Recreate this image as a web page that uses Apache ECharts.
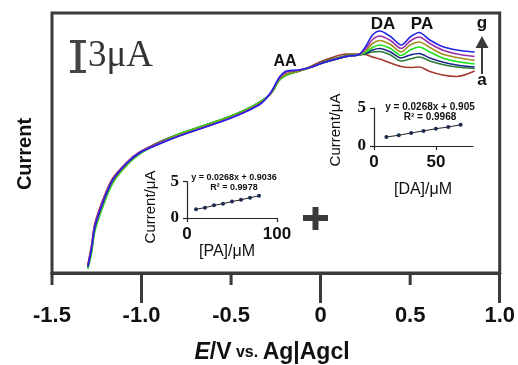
<!DOCTYPE html>
<html><head><meta charset="utf-8">
<script src="https://cdn.jsdelivr.net/npm/echarts@6/dist/echarts.min.js"></script>
<style>html,body{margin:0;padding:0;background:#fff}#c{width:518px;height:365px}</style>
</head><body><div id="c"></div>
<script>
// Potential (V vs. Ag|AgCl)
const potential = [-1.30,-1.28,-1.26,-1.21,-1.16,-1.08,-1.01,-0.90,-0.79,-0.66,-0.53,-0.41,-0.33,-0.28,-0.26,-0.23,-0.19,-0.12,-0.05,0.01,0.11,0.16,
                   0.21,0.25,0.29,0.33,0.39,0.45,0.50,0.55,0.61,0.68,0.76,0.86];
// Currents (µA, arbitrary offset) for curves a..g
const curveA = [0.8,2.7,5.0,7.6,9.5,11.1,12.1,13.1,13.9,14.7,15.5,16.4,17.2,17.9,18.4,19.3,19.8,20.2,20.7,21.2,21.8,21.9,
                21.9,21.85,21.6,21.4,21.0,20.65,20.55,20.6,20.15,19.8,19.65,20.2];
const curveB = [0.5,2.1,4.4,7.1,9.1,10.9,12.0,13.1,13.9,14.7,15.5,16.4,17.2,17.9,18.4,19.3,19.8,20.2,20.6,21.1,21.6,21.8,
                21.8,21.9,22.1,22.15,21.8,21.2,21.4,21.6,21.2,20.85,20.6,20.45];
const curveC = [0.6,2.3,4.6,7.3,9.3,11.0,12.0,13.0,13.8,14.6,15.4,16.3,17.1,17.9,18.5,19.4,19.9,20.2,20.6,21.0,21.5,21.7,
                21.8,21.95,22.3,22.45,22.1,21.5,21.8,21.95,21.5,21.1,20.8,20.6];
const curveD = [0.4,1.9,4.2,6.9,9.0,10.8,11.9,13.0,13.9,14.7,15.5,16.4,17.2,17.9,18.4,19.3,19.8,20.2,20.6,21.0,21.5,21.7,
                21.8,22.05,22.55,22.8,22.45,21.75,22.3,22.6,22.1,21.5,21.15,20.9];
const curveE = [0.6,2.3,4.5,7.2,9.2,10.9,12.0,13.0,13.8,14.6,15.4,16.3,17.1,17.9,18.5,19.4,19.9,20.2,20.6,21.0,21.5,21.7,
                21.8,22.2,22.95,23.25,22.85,22.1,22.8,23.1,22.55,21.9,21.55,21.25];
const curveF = [0.7,2.6,4.9,7.5,9.4,11.1,12.1,13.0,13.7,14.5,15.3,16.2,17.0,18.0,18.6,19.5,20.1,20.3,20.6,21.0,21.5,21.7,
                21.8,22.4,23.35,23.7,23.25,22.45,23.2,23.6,22.95,22.3,21.9,21.65];
const curveG = [0.6,2.3,4.6,7.3,9.3,11.0,12.0,12.9,13.7,14.5,15.3,16.2,17.0,18.0,18.6,19.6,20.2,20.3,20.6,21.0,21.5,21.7,
                21.8,22.6,23.8,24.2,23.65,22.8,23.6,24.05,23.3,22.65,22.3,22.1];
const curveNames = ['a','b','c','d','e','f','g'];
const curveColors = ['#a33a2e','#2c7a36','#1c2787','#1ee21e','#a08f1c','#9c2ea6','#2323e6'];
const xTickValues = [-1.5,-1.0,-0.5,0,0.5,1.0];
const xTickLabels = ['-1.5','-1.0','-0.5','0','0.5','1.0'];
const xLongTicks = [-1.0,0,1.0];
const xShortTicks = [-1.5,-0.5,0.5];
// Insets
const daConc = [10,20,30,40,50,60,70];
const daCurrent = [1.18,1.42,1.71,1.99,2.27,2.50,2.79];
const paConc = [10,20,30,40,50,60,70,80];
const paCurrent = [1.20,1.42,1.73,1.96,2.26,2.49,2.79,3.04];

const SANS = '"Liberation Sans", Arial, sans-serif';
const SERIF = '"Liberation Serif", "Times New Roman", serif';
const DARK = '#3a3a3a';

const curves = [curveA,curveB,curveC,curveD,curveE,curveF,curveG];
const series = curves.map((arr,i)=>({
  name: curveNames[i], type:'line', xAxisIndex:0, yAxisIndex:0,
  data: potential.map((e,j)=>[e,arr[j]]), smooth:0.3, symbol:'none',
  lineStyle:{color:curveColors[i], width:1.6}, z:2
}));
series.push({type:'line', xAxisIndex:2, yAxisIndex:1, data: daConc.map((c,i)=>[c,daCurrent[i]]),
  symbol:'circle', symbolSize:4, itemStyle:{color:'#1d2b4f'}, lineStyle:{color:'#222', width:1}, z:3});
series.push({type:'line', xAxisIndex:3, yAxisIndex:2, data: paConc.map((c,i)=>[c,paCurrent[i]]),
  symbol:'circle', symbolSize:4, itemStyle:{color:'#1d2b4f'}, lineStyle:{color:'#222', width:1}, z:3});

const insetAxisLine = {show:true, lineStyle:{color:'#222', width:1.2}};
const insetTick = {show:true, length:4, lineStyle:{color:'#222', width:1.2}};

function txt(x,y,text,font,extra){
  return Object.assign({type:'text', x:x, y:y, z:10, style:{text:text, font:font, fill:'#111', align:'center', verticalAlign:'middle'}}, extra||{});
}

const graphics = [
    txt(25,154,'Current','bold 20px '+SANS,{rotation:Math.PI/2}),
    {type:'text', x:272, y:353, z:10, style:{
      text:'{e|E}{b|/V}{s| vs. }{b|Ag|Agcl}', align:'center', verticalAlign:'middle', fill:'#111',
      rich:{e:{font:'italic bold 23px '+SANS, fill:'#111'}, b:{font:'bold 23px '+SANS, fill:'#111'}, s:{font:'bold 16px '+SANS, fill:'#111'}}}},
    // scale bar
    {type:'line', z:10, shape:{x1:78, y1:41, x2:78, y2:72}, style:{stroke:'#444', lineWidth:5}},
    {type:'line', z:10, shape:{x1:70, y1:41.5, x2:86, y2:41.5}, style:{stroke:'#444', lineWidth:3}},
    {type:'line', z:10, shape:{x1:70, y1:71.5, x2:86, y2:71.5}, style:{stroke:'#444', lineWidth:3}},
    {type:'text', x:88, y:56, z:10, style:{text:'3μA', font:'37px '+SERIF, fill:'#333', align:'left', verticalAlign:'middle'}},
    // peak labels
    txt(285,62,'AA','bold 16px '+SANS),
    txt(383,24,'DA','bold 17px '+SANS),
    txt(422,24,'PA','bold 17px '+SANS),
    txt(482,23,'g','bold 17px '+SANS),
    txt(482,80,'a','bold 17px '+SANS),
    {type:'line', z:10, shape:{x1:482, y1:74, x2:482, y2:46}, style:{stroke:DARK, lineWidth:2}},
    {type:'polygon', z:10, shape:{points:[[482,36],[475.5,48],[488.5,48]]}, style:{fill:DARK}},
    // plus sign
    {type:'rect', z:10, shape:{x:303, y:215, width:25, height:6}, style:{fill:DARK}},
    {type:'rect', z:10, shape:{x:312.5, y:207, width:6, height:23}, style:{fill:DARK}},
    // DA inset texts
    txt(430,107,'y = 0.0268x + 0.905','bold 10px '+SANS),
    txt(430,117,'R² = 0.9968','bold 10px '+SANS),
    txt(423,190,'[DA]/μM','16px '+SANS),
    txt(336,130,'Current/μA','15px '+SANS,{rotation:Math.PI/2}),
    // PA inset texts
    txt(234,178,'y = 0.0268x + 0.9036','bold 9px '+SANS),
    txt(234,188,'R² = 0.9978','bold 9px '+SANS),
    txt(227,252,'[PA]/μM','16px '+SANS),
    txt(151,207,'Current/μA','15px '+SANS,{rotation:Math.PI/2})
];

const option = {
  animation:false,
  backgroundColor:'#fff',
  grid:[
    {left:52, right:18, top:13, bottom:92, show:true, borderColor:DARK, borderWidth:3, backgroundColor:'transparent'},
    {left:374, right:45, top:108, bottom:219},
    {left:187, right:241, top:181.5, bottom:147}
  ],
  xAxis:[
    {type:'value', gridIndex:0, position:'bottom', min:-1.5, max:1.0, interval:0.5,
     axisLine:{show:true, lineStyle:{color:DARK, width:3}}, splitLine:{show:false},
     axisTick:{show:false},
     axisLabel:{margin:32, fontFamily:SANS, fontWeight:'bold', fontSize:22, color:'#111',
       formatter:v=>{const k=xTickValues.findIndex(t=>Math.abs(t-v)<1e-9);return k>=0?xTickLabels[k]:'';}}},
    {type:'value', gridIndex:0, position:'bottom', offset:0, min:-1.5, max:1.0, interval:0.5,
     axisLine:{show:true, lineStyle:{color:DARK, width:3}}, splitLine:{show:false}, axisLabel:{show:false},
     axisTick:{show:true, inside:false, customValues:xLongTicks, length:30, lineStyle:{color:DARK, width:3}}},
    {type:'value', gridIndex:1, min:0, max:80, interval:50, axisLine:insetAxisLine, splitLine:{show:false},
     axisTick:Object.assign({customValues:[0,50]},insetTick),
     axisLabel:{customValues:[0,50], margin:8, fontFamily:SANS, fontWeight:'bold', fontSize:17, color:'#111'}},
    {type:'value', gridIndex:2, min:0, max:100, interval:100, axisLine:insetAxisLine, splitLine:{show:false},
     axisTick:insetTick,
     axisLabel:{margin:8, fontFamily:SANS, fontWeight:'bold', fontSize:17, color:'#111'}}
  ],
  yAxis:[
    {type:'value', gridIndex:0, min:0, max:26, show:false},
    {type:'value', gridIndex:1, min:0, max:5, interval:5, axisLine:insetAxisLine, splitLine:{show:false},
     axisTick:insetTick, axisLabel:{margin:8, fontFamily:SERIF, fontWeight:'bold', fontSize:17, color:'#111'}},
    {type:'value', gridIndex:2, min:0, max:5, interval:5, axisLine:insetAxisLine, splitLine:{show:false},
     axisTick:insetTick, axisLabel:{margin:8, fontFamily:SERIF, fontWeight:'bold', fontSize:17, color:'#111'}}
  ],
  series: series,
  graphic: graphics
};
const chart = echarts.init(document.getElementById('c'), null, {renderer:'canvas'});
chart.setOption(option);
// short ticks at -1.5, -0.5, 0.5, positioned through the main x axis scale
const axisY = chart.convertToPixel({yAxisIndex:0}, 0);
const shortTickLines = xShortTicks.map(v=>{
  const px = chart.convertToPixel({xAxisIndex:0}, v);
  return {type:'line', z:10, shape:{x1:px, y1:axisY, x2:px, y2:axisY+12}, style:{stroke:DARK, lineWidth:3}};
});
chart.setOption({graphic: graphics.concat(shortTickLines)});
</script></body></html>
